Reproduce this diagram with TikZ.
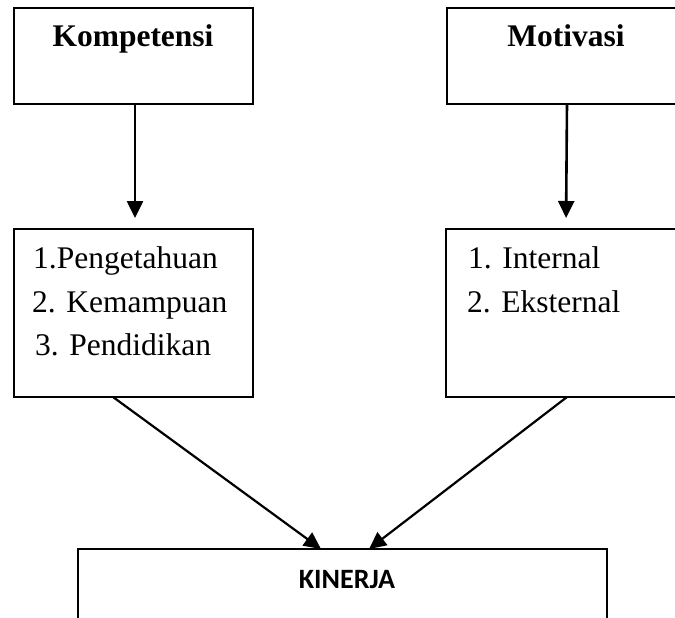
\documentclass[tikz,border=0pt]{standalone}
\usepackage{fontspec}
\setmainfont{Liberation Serif}
\newfontfamily\calibri{Carlito}
\usetikzlibrary{arrows.meta}

\begin{document}
\begin{tikzpicture}[
    x=1pt, y=-1pt,
    box/.style={draw, line width=2.2pt, rectangle, inner sep=0pt, outer sep=0pt, anchor=north west},
    head/.style={anchor=base, inner sep=0pt, font=\fontsize{31.5}{38}\selectfont\bfseries},
    item/.style={anchor=base west, inner sep=0pt, font=\fontsize{31.5}{38}\selectfont},
    arrow/.style={-{Triangle[length=17pt,width=16pt]}, line width=2.6pt}
]
\useasboundingbox (0,0) rectangle (675,618);
\clip (0,0) rectangle (675,618);

\node[box, minimum width=239pt, minimum height=96pt] (komp) at (14,8) {};
\node[box, minimum width=260pt, minimum height=96pt] (motiv) at (447,8) {};
\node[box, minimum width=239pt, minimum height=168pt] (peng) at (14,229) {};
\node[box, minimum width=260pt, minimum height=168pt] (intl) at (446,229) {};
\node[box, minimum width=529pt, minimum height=100pt] (kin) at (78,549) {};

\node[head] (tkomp) at (133,47) {Kompetensi};
\node[head] (tmotiv) at (566,47) {Motivasi};
\node[item] (k1) at (33,268) {1.Pengetahuan};
\node[item] (k2) at (32,312) {2. Kemampuan};
\node[item] (k3) at (35,355) {3. Pendidikan};
\node[item] (m1) at (468,268) {1. Internal};
\node[item] (m2) at (467,312) {2. Eksternal};
\node[anchor=base, inner sep=0pt, font=\calibri\fontsize{28}{34}\selectfont\bfseries] (tkin) at (347,588) {KINERJA};

\draw[arrow, shorten >=11pt] ([xshift=121pt]komp.south west) -- ([xshift=121pt]peng.north west);
\draw[arrow, shorten >=11pt] ([xshift=120pt]motiv.south west) -- ([xshift=120pt]intl.north west);
\draw[arrow, line width=2.2pt] ([xshift=99pt]peng.south west) -- ([xshift=243pt]kin.north west);
\draw[arrow, line width=2.2pt] ([xshift=121pt]intl.south west) -- ([xshift=291pt]kin.north west);
\end{tikzpicture}
\end{document}
